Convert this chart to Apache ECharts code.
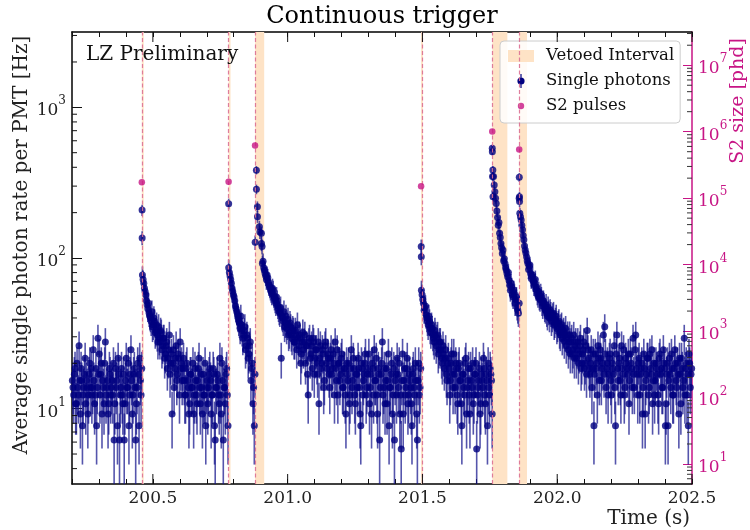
<!DOCTYPE html>
<html><head><meta charset="utf-8">
<script src="https://cdn.jsdelivr.net/npm/echarts@6/dist/echarts.min.js"></script>
<style>html,body{margin:0;padding:0;background:#fff}#c{width:750px;height:530px}</style>
</head><body><div id="c"></div>
<script>
// ---------------- data ----------------
const binWidth = 0.005;          // s per bin (two interleaved half-bin series)
const countUnit = 1.54;          // Hz per detected count (Poisson errors)
const segStart = [200.200, 200.460, 200.780, 200.880, 201.495, 201.760, 201.860];

// first half-bin of each bin
const rateA = [15.4, 12.3, 18.5, 10.8, 13.8, 26.2, 9.2, 15.4, 12.3, 16.9,
  10.8, 13.8, 12.3, 20.0, 18.5, 13.8, 15.4, 12.3, 7.7, 29.3,
  23.1, 16.9, 9.2, 13.8, 20.0, 12.3, 15.4, 10.8, 16.9, 13.8,
  12.3, 6.2, 18.5, 15.4, 21.6, 6.2, 13.8, 12.3, 16.9, 10.8,
  21.6, 13.8, 7.7, 16.9, 15.4, 12.3, 18.5, 6.2, 13.8, 16.9,
  21.6, 12.3];
const rateB = [77, 68, 60, 52, 46, 43, 40, 44, 36, 38,
  33, 30.8, 35, 27.7, 32, 26.2, 29.3, 23.1, 27.7, 21.6,
  30.8, 20.0, 9.2, 24.6, 18.5, 26.2, 16.9, 21.6, 27.7, 20.0,
  18.5,
  15.4, 12.3, 20.0, 13.8, 10.8, 16.9, 13.8, 9.2, 18.5, 12.3,
  15.4, 21.6, 10.8, 13.8, 16.9, 12.3, 7.7, 15.4, 13.8, 18.5,
  9.2, 12.3, 16.9, 6.2, 13.8, 15.4, 10.8, 12.3, 20.0, 6.2,
  13.8, 16.9, 12.3];
const rateC = [86, 76, 68, 60, 55, 48, 44, 40, 37, 41,
  33, 30.8, 35, 26.2, 29.3, 23.1, 27.7, 18.5, 10.8, 7.7];
const rateD = [null, null, null, null, null,
  92, 86, 79, 72, 74, 66, 62, 58, 61, 54,
  50, 52, 46, 43, 21.6, 40, 44, 37, 34, 39,
  32, 35, 29.3, 33, 27.7, 30.8, 36, 26.2, 29.3, 23.1,
  32, 27.7, 20.0, 26.2, 12.3, 29.3, 23.1, 18.5, 27.7, 21.6,
  24.6, 16.9, 10.8, 26.2, 20.0, 23.1, 15.4, 27.7, 18.5, 21.6,
  13.8, 24.6, 18.5, 20.0, 27.7, 15.4, 12.3, 20.0, 16.9, 23.1,
  13.8, 18.5, 9.2, 16.9, 20.0, 12.3, 24.6, 15.4, 18.5, 10.8,
  16.9, 21.6, 13.8, 7.7, 18.5, 15.4, 20.0, 12.3, 16.9, 23.1,
  13.8, 9.2, 18.5, 24.6, 15.4, 12.3, 18.5, 6.2, 16.9, 27.7,
  13.8, 10.8, 18.5, 15.4, 7.7, 13.8, 20.0, 12.3, 6.2, 16.9,
  21.6, 13.8, 9.2, 5.4, 23.1, 15.4, 12.3, 18.5, 10.8, 16.9,
  13.8, 7.7, 18.5, 12.3, 15.4, 6.2, 20.0, 13.8];
const rateE = [61, 53, 45, 48, 40, 36, 38, 32, 34, 29.3,
  33, 26.2, 30.8, 24.6, 27.7, 21.6, 26.2, 18.5, 24.6, 15.4,
  21.6, 12.3, 20.0, 16.9, 23.1, 13.8, 18.5, 10.8, 20.0, 15.4,
  7.7, 16.9, 12.3, 21.6, 13.8, 18.5, 9.2, 15.4, 20.0, 12.3,
  16.9, 5.4, 13.8, 18.5, 10.8, 15.4, 21.6, 12.3, 16.9, 7.7,
  13.8, 18.5, 15.4];
const rateF = [384, 305, 249, 205, 165, 146, 125, 107, 96, 92,
  83, 75, 71, 61, 64, 55, 58, 53, 47, 43];
const rateG = [198, 179, 154, 132, 113, 102, 92, 88, 79, 75,
  70, 68, 62, 58, 60, 53, 55, 48, 50, 45,
  43, 47, 40, 43, 40, 43, 37, 41, 35, 38,
  31, 36, 32, 28, 34, 29.3, 24.6, 31, 27.7, 23.1,
  30.8, 26.2, 21.6, 27.7, 23.1, 29.3, 20.0, 24.6, 18.5, 26.2,
  33, 21.6,
  16.9, 24.6, 18.5, 7.7, 23.1, 20.0, 26.2, 15.4, 21.6, 18.5,
  30.8, 35, 13.8, 20.0, 16.9, 23.1, 12.3, 18.5, 26.2, 7.7,
  30.8, 15.4, 21.6, 12.3, 18.5, 24.6, 13.8, 20.0, 16.9, 10.8,
  23.1, 18.5, 29.3, 13.8, 30.8, 16.9, 20.0, 12.3, 18.5, 9.2,
  23.1, 9.2, 16.9, 21.6, 13.8, 18.5, 24.6, 15.4, 12.3, 20.0,
  16.9, 10.8, 23.1, 18.5, 13.8, 20.0, 7.7, 16.9, 7.7, 21.6,
  13.8, 18.5, 12.3, 24.6, 15.4, 20.0, 9.2, 16.9, 21.6, 13.8,
  29.3, 18.5, 12.3, 7.7, 20.0, 16.9];

// second half-bin of each bin
const rateA2 = [13.8, 16.9, 10.8, 20.0, 12.3, 15.4, 18.5, 7.7, 13.8, 21.6,
  15.4, 9.2, 16.9, 13.8, 12.3, 24.6, 10.8, 18.5, 13.8, 16.9,
  12.3, 20.0, 15.4, 10.8, 27.7, 13.8, 9.2, 18.5, 12.3, 15.4,
  20.0, 10.8, 13.8, 7.7, 16.9, 12.3, 18.5, 10.8, 6.2, 15.4,
  13.8, 20.0, 12.3, 24.6, 9.2, 16.9, 13.8, 10.8, 20.0, 7.7,
  15.4, 18.5];
const rateB2 = [72, 63, 57, 49, 50, 41, 38, 35, 40, 32,
  36, 27.7, 29.3, 33, 24.6, 29.3, 21.6, 26.2, 18.5, 24.6,
  16.9, 23.1, 20.0, 13.8, 21.6, 15.4, 23.1, 12.3, 18.5, 15.4,
  21.6,
  12.3, 18.5, 15.4, 9.2, 16.9, 13.8, 20.0, 12.3, 15.4, 10.8,
  18.5, 13.8, 16.9, 9.2, 12.3, 20.0, 13.8, 10.8, 16.9, 15.4,
  12.3, 18.5, 7.7, 13.8, 16.9, 12.3, 21.6, 9.2, 15.4, 13.8,
  10.8, 18.5, 7.7];
const rateC2 = [80, 72, 63, 57, 52, 46, 42, 38, 34, 36,
  29.3, 33, 24.6, 30.8, 21.6, 26.2, 15.4, 20.0, 13.8, 16.9];
const rateD2 = [null, null, null, null, null,
  95, 83, 76, 77, 69, 64, 60, 63, 56, 52,
  55, 48, 44, 47, 41, 38, 35, 41, 36, 31,
  37, 30.8, 34, 27.7, 33, 24.6, 29.3, 31, 20.0, 27.7,
  24.6, 30.8, 26.2, 16.9, 27.7, 21.6, 26.2, 29.3, 16.9, 24.6,
  20.0, 27.7, 21.6, 18.5, 24.6, 13.8, 26.2, 20.0, 23.1, 16.9,
  21.6, 16.9, 23.1, 12.3, 18.5, 24.6, 20.0, 15.4, 21.6, 13.8,
  18.5, 12.3, 20.0, 15.4, 10.8, 18.5, 13.8, 21.6, 12.3, 16.9,
  13.8, 18.5, 9.2, 20.0, 12.3, 16.9, 23.1, 13.8, 18.5, 10.8,
  16.9, 20.0, 12.3, 15.4, 21.6, 9.2, 16.9, 13.8, 20.0, 12.3,
  18.5, 15.4, 10.8, 23.1, 13.8, 16.9, 9.2, 18.5, 15.4, 12.3,
  16.9, 20.0, 12.3, 15.4, 9.2, 18.5, 13.8, 21.6, 12.3, 15.4,
  10.8, 16.9, 13.8, 20.0, 9.2, 15.4, 12.3, 18.5];
const rateE2 = [57, 50, 47, 42, 38, 41, 34, 36, 31, 27.7,
  30.8, 29.3, 23.1, 27.7, 24.6, 20.0, 23.1, 21.6, 16.9, 20.0,
  18.5, 15.4, 23.1, 13.8, 16.9, 20.0, 12.3, 18.5, 15.4, 10.8,
  16.9, 13.8, 20.0, 9.2, 15.4, 12.3, 18.5, 13.8, 10.8, 16.9,
  20.0, 12.3, 15.4, 9.2, 16.9, 13.8, 18.5, 10.8, 15.4, 20.0,
  12.3, 16.9, 9.2];
const rateF2 = [347, 275, 230, 186, 172, 137, 117, 113, 99, 86,
  79, 80, 66, 68, 57, 61, 50, 55, 45, 50];
const rateG2 = [188, 165, 141, 120, 108, 96, 84, 90, 73, 77,
  66, 72, 64, 56, 54, 58, 50, 52, 46, 49,
  41, 44, 45, 38, 42, 36, 39, 34, 37, 32,
  35, 29.3, 33, 30.8, 26.2, 31, 27.7, 23.1, 29.3, 24.6,
  21.6, 27.7, 24.6, 20.0, 26.2, 18.5, 23.1, 27.7, 20.0, 16.9,
  24.6, 18.5,
  20.0, 13.8, 23.1, 16.9, 18.5, 12.3, 21.6, 24.6, 15.4, 20.0,
  16.9, 23.1, 18.5, 12.3, 21.6, 15.4, 20.0, 16.9, 13.8, 23.1,
  18.5, 20.0, 15.4, 26.2, 16.9, 12.3, 21.6, 18.5, 23.1, 15.4,
  20.0, 13.8, 16.9, 24.6, 18.5, 12.3, 21.6, 16.9, 20.0, 13.8,
  18.5, 15.4, 21.6, 12.3, 23.1, 16.9, 10.8, 20.0, 15.4, 18.5,
  12.3, 21.6, 16.9, 13.8, 24.6, 18.5, 10.8, 20.0, 15.4, 16.9,
  23.1, 12.3, 18.5, 20.0, 13.8, 16.9, 21.6, 10.8, 18.5, 15.4,
  12.3, 20.0, 16.9, 23.1, 13.8, 18.5];

// points right after each S2 (finer timing)
const peakTimes = [200.4600, 200.4602, 200.7812, 200.8795, 200.8840, 200.8842, 200.8878, 200.8880,
  200.8952, 200.8970, 200.9026, 200.9028, 200.9050, 201.4955, 201.4958, 201.7590, 201.7593,
  201.7600, 201.7618, 201.8588, 201.8592, 201.8600, 201.8602];
const peakRates = [208, 136, 229, 127, 383, 286, 219, 188, 161, 149, 146, 125, 119, 119, 102,
  535, 508, 347, 255, 249, 343, 255, 237];

const s2Times = [200.459, 200.781, 200.879, 201.495, 201.759, 201.859];
const s2Sizes = [1.73e5, 1.76e5, 6.2e5, 1.51e5, 1.01e6, 5.4e5];
const vetoEnd = [200.466, 200.788, 200.913, 201.502, 201.815, 201.888];

const xMajorTicks = [200.5, 201.0, 201.5, 202.0, 202.5];
const leftDecades = [1, 10, 100, 1000];
const rightDecades = [1, 10, 100, 1e3, 1e4, 1e5, 1e6, 1e7];

// ---------------- build ----------------
const segFirst = [rateA, rateB, rateC, rateD, rateE, rateF, rateG];
const segSecond = [rateA2, rateB2, rateC2, rateD2, rateE2, rateF2, rateG2];
const photonPts = [];
segFirst.forEach((arr, s) => arr.forEach((v, k) => {
  if (v != null) photonPts.push([+(segStart[s] + (k + 0.25) * binWidth).toFixed(5), v]);
}));
segSecond.forEach((arr, s) => arr.forEach((v, k) => {
  if (v != null) photonPts.push([+(segStart[s] + (k + 0.75) * binWidth).toFixed(5), v]);
}));
peakTimes.forEach((t, i) => photonPts.push([t, peakRates[i]]));
const errPts = photonPts.map(([t, v]) => {
  const e = Math.sqrt(v / countUnit) * countUnit;
  return [t, Math.max(v - e, 0.3), v + e];
});
const s2Pts = s2Times.map((t, i) => [t, s2Sizes[i]]);

const yMin = Math.pow(10, 0.5), yMax = Math.pow(10, 3.5);
const y2Min = 5, y2Max = Math.pow(10, 7.5);
const tMin = 200.2, tMax = 202.5;

function minorOf(decades, lo, hi) {
  const out = [];
  decades.forEach(d => { for (let m = 2; m <= 9; m++) { const v = m * d; if (v > lo && v < hi) out.push(v); } });
  return out;
}
const tickData0 = [];
minorOf(leftDecades, yMin, yMax).forEach(v => tickData0.push([tMin, v, 0]));
xMajorTicks.forEach(t => { tickData0.push([t, 10, 1]); tickData0.push([t, 10, 2]); });
const tickData1 = minorOf(rightDecades, y2Min, y2Max).map(v => [tMax, v, 3]);

function tickRender(params, api) {
  const cs = params.coordSys;
  const kind = api.value(2);
  const p = api.coord([api.value(0), api.value(1)]);
  let shape, stroke = '#111';
  if (kind === 0) shape = {x1: cs.x, y1: p[1], x2: cs.x + 5, y2: p[1]};
  else if (kind === 1) shape = {x1: p[0], y1: cs.y + cs.height, x2: p[0], y2: cs.y + cs.height - 10};
  else if (kind === 2) shape = {x1: p[0], y1: cs.y, x2: p[0], y2: cs.y + 10};
  else { shape = {x1: cs.x + cs.width, y1: p[1], x2: cs.x + cs.width - 5, y2: p[1]}; stroke = '#333'; }
  return {type: 'line', shape, style: {stroke, lineWidth: 1}};
}

const SERIF = 'DejaVu Serif';
const MAG = '#C71585';
function supFmt(v) {
  const e = Math.round(Math.log10(v));
  return '{b|10}{s|' + e + '}';
}
function supRich(color) {
  return {
    b: {fontFamily: SERIF, fontSize: 17, lineHeight: 24, verticalAlign: 'bottom', color},
    s: {fontFamily: SERIF, fontSize: 12, lineHeight: 12, verticalAlign: 'top', color}
  };
}
function textEl(x, y, text, size, color, align, rot) {
  return {type: 'text', x, y, rotation: rot || 0, z: 10,
    style: {text, font: size + 'px "DejaVu Serif"', fill: color, align, verticalAlign: 'middle', textAlign: align, textVerticalAlign: 'middle'}};
}

const chart = echarts.init(document.getElementById('c'), null, {renderer: 'canvas'});
chart.setOption({
  animation: false,
  textStyle: {fontFamily: SERIF},
  grid: {left: 72, right: 58, top: 32, bottom: 46, containLabel: false, outerBoundsMode: 'none'},
  xAxis: [{
    type: 'value', min: tMin, max: tMax, interval: 0.1, position: 'bottom',
    axisLine: {lineStyle: {color: '#000', width: 1.5}},
    axisTick: {inside: true, length: 5, lineStyle: {color: '#111', width: 1}},
    splitLine: {show: false},
    axisLabel: {
      fontFamily: SERIF, fontSize: 17, color: '#222', margin: 6,
      formatter: v => { const r = Math.round(v * 10); return r % 5 === 0 ? (r / 10).toFixed(1) : ''; }
    }
  }, {
    type: 'value', min: tMin, max: tMax, interval: 0.1, position: 'top',
    axisLine: {lineStyle: {color: '#000', width: 1.5}},
    axisTick: {inside: true, length: 5, lineStyle: {color: '#111', width: 1}},
    splitLine: {show: false}, axisLabel: {show: false}
  }],
  yAxis: [{
    type: 'log', logBase: 10, min: yMin, max: yMax, splitNumber: 3, position: 'left',
    axisLine: {show: true, lineStyle: {color: '#000', width: 1.5}},
    axisTick: {show: true, inside: true, length: 10, lineStyle: {color: '#111', width: 1}},
    splitLine: {show: false},
    axisLabel: {formatter: supFmt, rich: supRich('#222'), margin: 6, showMinLabel: false, showMaxLabel: false}
  }, {
    type: 'log', logBase: 10, min: y2Min, max: y2Max, splitNumber: 7, position: 'right',
    axisLine: {show: true, lineStyle: {color: MAG, width: 1.5}},
    axisTick: {show: true, inside: true, length: 9, lineStyle: {color: MAG, width: 1}},
    splitLine: {show: false},
    axisLabel: {formatter: supFmt, rich: supRich(MAG), margin: 6, showMinLabel: false, showMaxLabel: false}
  }],
  legend: {
    orient: 'vertical', left: 500, top: 41,
    padding: [6, 6, 8, 8], itemGap: 7, itemWidth: 26, itemHeight: 14,
    backgroundColor: 'rgba(255,255,255,0.85)', borderColor: '#cccccc', borderWidth: 1, borderRadius: 4,
    selectedMode: false,
    textStyle: {fontFamily: SERIF, fontSize: 16.5, color: '#111', lineHeight: 18, padding: [0, 0, 0, 7]},
    data: [
      {name: 'Vetoed Interval', icon: 'path://M0,1H26V13H0Z', itemStyle: {color: '#fee3c6'}},
      {name: 'Single photons', icon: 'path://M0,0M26,14M12.4,0H13.6V14H12.4ZM16.6,7A3.6,3.6,0,1,1,9.4,7A3.6,3.6,0,1,1,16.6,7Z', itemStyle: {color: '#000080'}},
      {name: 'S2 pulses', icon: 'path://M0,0M26,14M16.2,7A3.2,3.2,0,1,1,9.8,7A3.2,3.2,0,1,1,16.2,7Z', itemStyle: {color: MAG}}
    ]
  },
  graphic: [
    textEl(382, 17, 'Continuous trigger', 24, '#000', 'center'),
    textEl(22, 245, 'Average single photon rate per PMT [Hz]', 20, '#222', 'center', Math.PI / 2),
    textEl(738, 101, 'S2 size [phd]', 19, MAG, 'center', Math.PI / 2),
    textEl(690, 519, 'Time (s)', 20, '#222', 'right'),
    textEl(86, 55, 'LZ Preliminary', 20, '#111', 'left')
  ],
  series: [
    {
      name: 'Vetoed Interval', type: 'line', data: [], xAxisIndex: 0, yAxisIndex: 0, z: 1,
      itemStyle: {color: '#fee3c6'},
      markArea: {silent: true, itemStyle: {color: '#fee3c6'}, data: s2Times.map((t, i) => [{xAxis: t}, {xAxis: vetoEnd[i]}])},
      markLine: {silent: true, symbol: ['none', 'none'], label: {show: false},
        lineStyle: {color: 'rgba(219,112,147,0.9)', type: [4, 2.5], width: 1.2},
        data: s2Times.map(t => ({xAxis: t}))}
    },
    {
      name: 'Single photons', type: 'custom', xAxisIndex: 0, yAxisIndex: 0, z: 3, clip: true, silent: true,
      data: errPts, encode: {x: 0, y: [1, 2]},
      renderItem: (params, api) => {
        const a = api.coord([api.value(0), api.value(1)]);
        const b = api.coord([api.value(0), api.value(2)]);
        return {type: 'line', shape: {x1: a[0], y1: a[1], x2: b[0], y2: b[1]}, style: {stroke: 'rgba(20,20,140,0.72)', lineWidth: 1.6}};
      }
    },
    {
      name: 'Single photons', type: 'scatter', xAxisIndex: 0, yAxisIndex: 0, z: 4, silent: true,
      symbol: 'circle', symbolSize: 7, itemStyle: {color: '#000080'}, data: photonPts, clip: true
    },
    {
      name: 'S2 pulses', type: 'scatter', xAxisIndex: 0, yAxisIndex: 1, z: 5, silent: true,
      symbol: 'circle', symbolSize: 6.5, itemStyle: {color: MAG}, data: s2Pts
    },
    {
      name: 'ticksLeft', type: 'custom', xAxisIndex: 0, yAxisIndex: 0, z: 6, silent: true, clip: false,
      data: tickData0, encode: {x: 0, y: 1}, renderItem: tickRender
    },
    {
      name: 'ticksRight', type: 'custom', xAxisIndex: 0, yAxisIndex: 1, z: 6, silent: true, clip: false,
      data: tickData1, encode: {x: 0, y: 1}, renderItem: tickRender
    }
  ]
});
</script>
</body></html>
